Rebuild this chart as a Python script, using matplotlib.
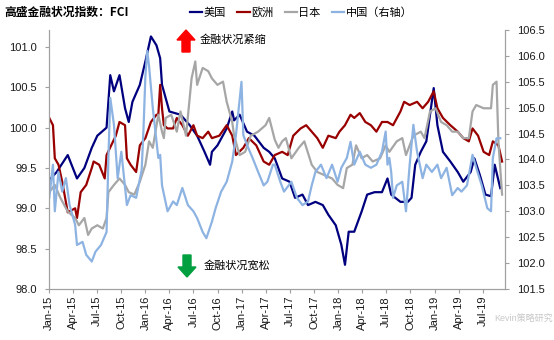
import numpy as np
import pandas as pd
import matplotlib.pyplot as plt
import matplotlib.dates as mdates
from matplotlib.patches import FancyArrow

plt.rcParams['font.family'] = ['Liberation Sans', 'Noto Sans CJK SC', 'DejaVu Sans']

start = pd.Timestamp('2015-01-02')

# 周序号（自2015-01-02起）与指数读数
us_wk = [0, 4, 10, 15, 19, 23, 26, 31, 33, 35, 38, 41, 43, 45, 49, 52, 55, 58, 60, 61, 65, 71, 76, 80,
         84, 87, 88, 91, 96, 99, 100, 103, 107, 111, 116, 119, 122, 126, 130, 133, 137, 140, 144, 148,
         151, 155, 158, 160, 162, 165, 169, 172, 176, 180, 183, 185, 190, 194, 196, 198, 201, 204, 208,
         210, 213, 217, 221, 224, 228, 230, 233, 236, 239, 241, 244]
us_val = [99.35, 99.45, 99.66, 99.37, 99.50, 99.75, 99.90, 100.00, 100.65, 100.45, 100.65, 100.24, 100.07,
          100.32, 100.53, 100.82, 101.13, 101.02, 100.86, 100.53, 100.20, 100.16, 100.03, 99.90,
          99.70, 99.54, 99.70, 99.78, 99.99, 100.20, 100.09, 100.16, 99.95, 99.90, 99.75, 99.70, 99.62,
          99.37, 99.33, 99.13, 99.17, 99.04, 99.08, 99.04, 98.92, 98.79, 98.55, 98.30, 98.71, 98.71,
          98.96, 99.17, 99.20, 99.20, 99.37, 99.17, 99.08, 99.08, 99.13, 99.54, 99.70, 99.83, 100.49,
          100.03, 99.70, 99.58, 99.45, 99.33, 99.45, 99.62, 99.41, 99.17, 99.15, 99.54, 99.25]

eu_wk = [0, 2, 3, 5, 7, 10, 14, 15, 17, 20, 23, 24, 27, 30, 31, 36, 38, 41, 42, 44, 47, 49, 52, 55, 58,
         59, 60, 61, 62, 64, 67, 69, 72, 75, 78, 80, 83, 86, 88, 92, 96, 99, 101, 105, 108, 112, 116, 119,
         122, 126, 129, 132, 136, 139, 142, 145, 148, 151, 155, 157, 160, 163, 165, 168, 171, 174, 177,
         180, 183, 186, 190, 192, 195, 199, 202, 205, 208, 210, 213, 217, 221, 224, 227, 229, 232, 235,
         238, 240, 243, 245]
eu_val = [100.12, 100.03, 99.62, 99.54, 99.33, 98.95, 99.00, 98.88, 99.20, 99.29, 99.50, 99.58, 99.54,
          99.37, 99.66, 99.90, 100.07, 100.03, 99.62, 99.54, 99.45, 99.78, 99.87, 100.07, 100.16,
          100.16, 100.53, 100.24, 100.03, 99.99, 99.99, 100.12, 100.03, 99.90, 100.03, 99.90, 99.87,
          99.95, 99.87, 99.90, 100.03, 99.90, 99.66, 99.75, 99.87, 99.78, 99.58, 99.54,
          99.66, 99.70, 99.66, 99.90, 99.99, 100.03, 99.95, 99.87, 99.75, 99.90, 99.87, 99.95, 100.03,
          100.16, 100.12, 100.18, 100.07, 100.03, 99.95, 100.07, 100.07, 100.03, 100.20, 100.32, 100.28,
          100.32, 100.24, 100.32, 100.45, 100.24, 100.12, 100.03, 99.95, 99.87, 99.83, 99.99, 99.90,
          99.70, 99.66, 99.83, 99.78, 99.58]

jp_wk = [0, 3, 6, 10, 14, 16, 19, 21, 23, 26, 29, 31, 32, 35, 38, 41, 43, 46, 49, 52, 54, 56, 59, 61,
         62, 63, 66, 69, 71, 74, 77, 79, 80, 83, 86, 88, 91, 94, 96, 99, 100, 103, 106, 109, 113, 117,
         119, 122, 124, 126, 128, 131, 135, 138, 142, 145, 149, 153, 156, 159, 161, 164, 166, 169, 172,
         175, 179, 182, 184, 188, 191, 193, 197, 201, 203, 206, 209, 212, 215, 218, 221, 224, 227, 229,
         231, 235, 239, 240, 242, 243, 245]
jp_val = [99.20, 99.29, 99.13, 98.96, 98.88, 98.79, 98.88, 98.67, 98.75, 98.79, 98.75, 98.88, 99.20,
          99.29, 99.37, 99.29, 99.20, 99.17, 99.33, 99.54, 99.83, 99.75, 100.16, 99.95,
          99.87, 100.12, 100.16, 99.95, 100.20, 99.90, 100.61, 100.82, 100.53, 100.74, 100.70, 100.61,
          100.53, 100.57, 100.32, 100.07, 99.90, 99.66, 99.70, 99.90, 99.95, 100.03,
          100.12, 99.85, 99.75, 99.83, 99.87, 99.62, 99.75, 99.83, 99.54, 99.45, 99.41, 99.37, 99.29,
          99.25, 99.50, 99.54, 99.78, 99.62, 99.66, 99.58, 99.62, 99.78, 99.70, 99.83, 99.87, 99.66,
          99.90, 99.95, 99.87, 100.20, 100.24, 100.07, 100.03, 99.95, 99.95, 99.87, 99.87, 100.20,
          100.28, 100.24, 100.24, 100.53, 100.57, 99.83, 99.17]

cn_wk = [0, 2, 3, 5, 7, 9, 11, 14, 15, 18, 20, 23, 25, 28, 31, 32, 33, 35, 37, 39, 42, 44, 47, 50, 51,
         52, 53, 54, 56, 59, 60, 61, 64, 67, 69, 72, 75, 78, 80, 83, 85, 88, 90, 93, 96, 99, 101, 104,
         105, 107, 110, 113, 116, 118, 121, 122, 125, 127, 131, 134, 137, 140, 142, 144, 147, 150, 153,
         156, 158, 161, 163, 165, 168, 171, 174, 177, 180, 182, 183, 184, 185, 186, 188, 191, 193, 195,
         197, 199, 202, 204, 207, 210, 212, 215, 218, 221, 223, 226, 229, 231, 234, 237, 239, 240, 242,
         244]
cn_val = [103.26, 103.90, 103.00, 103.76, 103.38, 103.64, 103.12, 102.74, 102.35, 102.41, 102.16, 102.03,
          102.22, 102.35, 102.60, 104.03, 105.19, 104.67, 103.64, 104.15, 103.12, 103.31, 103.26, 103.80,
          104.60, 105.60, 106.10, 105.80, 105.00, 104.03, 104.09, 103.50, 103.00, 103.19, 103.12, 103.45,
          103.12, 103.00, 102.87, 102.60, 102.48, 102.80, 103.06, 103.38, 103.57, 103.96, 104.47, 105.50,
          104.47, 104.28, 104.03, 103.76, 103.50, 103.57, 103.90, 103.90, 103.57, 103.38, 103.57, 103.26,
          103.12, 103.19, 103.50, 103.76, 103.90, 103.64, 103.90, 103.57, 103.84, 104.03, 104.34, 103.90,
          104.15, 103.90, 103.84, 103.90, 104.15, 104.54, 103.90, 104.03, 103.76, 103.26, 103.50, 103.57,
          103.00, 103.90, 104.67, 104.15, 103.64, 103.90, 103.76, 103.90, 103.64, 103.84, 103.31, 103.45,
          103.38, 103.50, 104.09, 103.84, 103.50, 103.06, 103.00, 104.03, 104.41, 104.41]


def to_dates(weeks):
    return start + pd.to_timedelta(np.array(weeks) * 7, unit='D')


fig = plt.figure(figsize=(5.54, 3.40), dpi=100)
ax = fig.add_axes([49 / 554, 1 - 289 / 340, 456 / 554, 259 / 340])
ax2 = ax.twinx()

l1, = ax.plot(to_dates(us_wk), us_val, color='#00007F', lw=1.6)
l2, = ax.plot(to_dates(eu_wk), eu_val, color='#990000', lw=1.6)
l3, = ax.plot(to_dates(jp_wk), jp_val, color='#A6A6A6', lw=1.6)
l4, = ax2.plot(to_dates(cn_wk), cn_val, color='#8DB3E2', lw=1.6)

ax.set_ylim(98.0, 101.21)
ax.set_yticks(np.arange(98.0, 101.01, 0.5))
ax.yaxis.set_major_formatter(plt.FormatStrFormatter('%.1f'))
ax2.set_ylim(101.5, 106.5)
ax2.set_yticks(np.arange(101.5, 106.51, 0.5))
ax2.yaxis.set_major_formatter(plt.FormatStrFormatter('%.1f'))

ax.set_xlim(pd.Timestamp('2015-01-01'), pd.Timestamp('2019-09-24'))
ax.xaxis.set_major_locator(mdates.MonthLocator(bymonth=[1, 4, 7, 10]))
ax.xaxis.set_major_formatter(mdates.DateFormatter('%b-%y'))

for a in (ax, ax2):
    a.spines['top'].set_visible(False)
    for s in ('left', 'right', 'bottom'):
        a.spines[s].set_color('#A0A0A0')
        a.spines[s].set_linewidth(0.8)
    a.tick_params(length=3, width=0.8, color='#A0A0A0', labelsize=8, labelcolor='#1A1A1A')
ax.tick_params(axis='x', rotation=90, pad=2)
ax.tick_params(axis='y', pad=6)
ax2.tick_params(axis='y', pad=6)

cjk = ['Noto Sans CJK SC', 'DejaVu Sans']
fig.text(0.008, 0.963, '高盛金融状况指数：FCI', fontsize=8.5, fontweight='bold', family=cjk, va='center')
fig.legend([l1, l2, l3, l4], ['美国', '欧洲', '日本', '中国（右轴）'], loc='center left',
           bbox_to_anchor=(0.325, 0.963), ncol=4, frameon=False,
           handlelength=1.1, handletextpad=0.15, columnspacing=1.0,
           prop={'family': cjk, 'size': 8})

# 紧缩 / 宽松 箭头
fig.patches.append(FancyArrow(186 / 554, 1 - 52 / 340, 0, 22 / 340, width=8 / 554, head_width=18 / 554,
                              head_length=10 / 340, length_includes_head=True, color='#FF0000',
                              transform=fig.transFigure))
fig.text(200 / 554, 1 - 40 / 340, '金融状况紧缩', fontsize=8, family=cjk, va='center')
fig.patches.append(FancyArrow(187 / 554, 1 - 255 / 340, 0, -22 / 340, width=8 / 554, head_width=18 / 554,
                              head_length=10 / 340, length_includes_head=True, color='#00A040',
                              transform=fig.transFigure))
fig.text(204 / 554, 1 - 265 / 340, '金融状况宽松', fontsize=8, family=cjk, va='center')

fig.text(553 / 554, 1 - 318 / 340, 'Kevin策略研究', fontsize=6.5, color='#C8C8C8', ha='right', va='center',
         family=['Liberation Sans', 'Noto Sans CJK SC'])

fig.savefig('out.png', dpi=100)
